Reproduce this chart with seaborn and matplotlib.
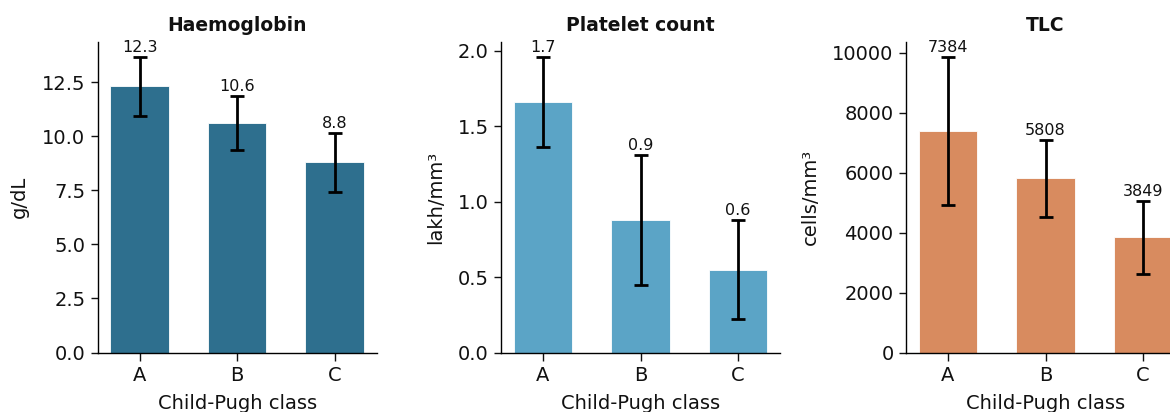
import numpy as np
import pandas as pd
import matplotlib
matplotlib.use("Agg")
import matplotlib.pyplot as plt
import seaborn as sns

# Child-Pugh classes
classes = ["A", "B", "C"]

# Haemoglobin (g/dL): mean and SD
hb_mean = [12.3, 10.6, 8.8]
hb_sd = [1.37, 1.25, 1.36]

# Platelet count (lakh/mm³): mean and SD
plt_mean = [1.66, 0.88, 0.55]
plt_sd = [0.30, 0.43, 0.33]

# Total leucocyte count (cells/mm³): mean and SD
tlc_mean = [7384, 5808, 3849]
tlc_sd = [2480, 1287, 1215]

titles = ["Haemoglobin", "Platelet count", "TLC"]
ylabels = ["g/dL", "lakh/mm³", "cells/mm³"]
colors = ["#2E6F8E", "#5BA4C6", "#D88B5F"]
label_fmt = ["{:.1f}", "{:.1f}", "{:.0f}"]

sns.set_theme(style="ticks")
plt.rcParams["font.family"] = ["DejaVu Sans"]
plt.rcParams.update({
    "axes.linewidth": 1.0,
    "xtick.major.size": 5.4,
    "ytick.major.size": 5.4,
    "xtick.major.width": 1.0,
    "ytick.major.width": 1.0,
    "xtick.major.pad": 4.5,
    "xtick.labelsize": 14,
    "ytick.labelsize": 14,
    "axes.labelsize": 14,
    "text.color": "#111111",
    "axes.labelcolor": "#111111",
    "xtick.color": "#111111",
    "ytick.color": "#111111",
    "axes.edgecolor": "black",
})

W, H = 1170, 412
fig = plt.figure(figsize=(W / 100, H / 100), dpi=100)

panel_w = 279 / W
panel_h = (352.5 - 42) / H
bottom = (H - 352.5) / H
lefts = [97.7 / W, 501 / W, 906 / W]

series = [(hb_mean, hb_sd), (plt_mean, plt_sd), (tlc_mean, tlc_sd)]

for i, ((means, sds), title, ylab, col, fmt) in enumerate(
        zip(series, titles, ylabels, colors, label_fmt)):
    ax = fig.add_axes([lefts[i], bottom, panel_w, panel_h])
    df = pd.DataFrame({"Child-Pugh class": classes, "value": means})
    sns.barplot(data=df, x="Child-Pugh class", y="value", color=col,
                saturation=1, width=0.6, errorbar=None,
                edgecolor="white", linewidth=0.6, ax=ax)
    xs = np.arange(len(classes))
    ax.errorbar(xs, means, yerr=sds, fmt="none", ecolor="black",
                elinewidth=2.0, capsize=5.3, capthick=2.0, zorder=3)
    for x, m, s in zip(xs, means, sds):
        ax.annotate(fmt.format(m), (x, m + s), xytext=(0, 1.5),
                    textcoords="offset points", ha="center", va="bottom",
                    fontsize=11.5, color="#111111")
    ax.autoscale(enable=True, axis="x")
    ax.margins(x=0.05, y=0.05)
    ax.autoscale_view()
    ax.set_ylim(bottom=0)
    ax.set_title(title, fontsize=13.5, fontweight="bold", pad=8)
    ax.set_ylabel(ylab, labelpad=9)
    ax.set_xlabel("Child-Pugh class", labelpad=6)
    sns.despine(ax=ax)

fig.savefig("out.png", dpi=100)
